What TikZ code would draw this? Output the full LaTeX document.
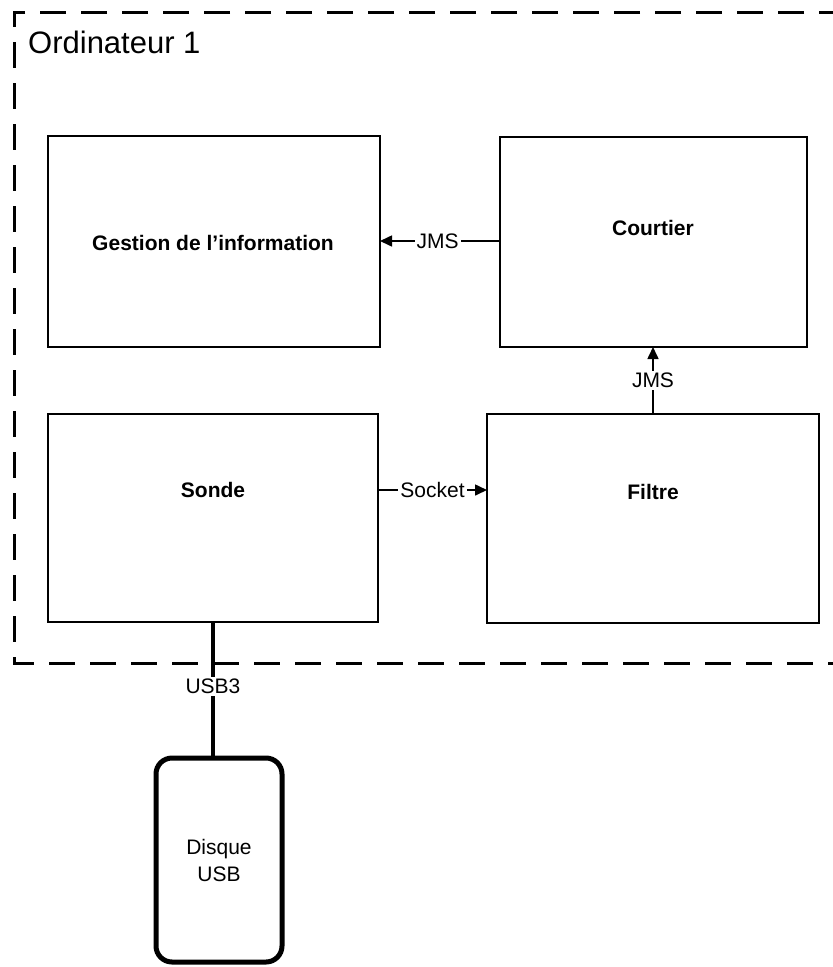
\documentclass[tikz,border=0pt]{standalone}
\usepackage{fontspec}
\setmainfont{Liberation Sans}
\usetikzlibrary{arrows.meta}
\begin{document}
\begin{tikzpicture}[x=1pt,y=-1pt,
  box/.style={draw,line width=2pt,inner sep=0pt},
  lbl/.style={font=\fontsize{21}{25}\selectfont\bfseries},
  conn/.style={line width=1.6pt,-{Triangle[length=12pt,width=11pt]}},
  clabel/.style={font=\fontsize{21}{25}\selectfont,fill=white,inner sep=2pt}]
\useasboundingbox (0,0) rectangle (833,967);
% frame
\draw[line width=3pt,dash pattern=on 26pt off 15pt] (845,12) -- (14,12) -- (14,663) -- (845,663);
\node[anchor=base west,font=\fontsize{31}{36}\selectfont,inner sep=0pt] (title) at (28,53) {Ordinateur 1};
% boxes
\draw[box] (48,136) rectangle (380,347);
\coordinate (gestionE) at (380,241);
\node[lbl] (gestion) at (213,243) {Gestion de l'information};
\draw[box] (500,137) rectangle (807,347);
\coordinate (courtierW) at (500,241);
\coordinate (courtierS) at (653,347);
\node[lbl] (courtier) at (653,228) {Courtier};
\draw[box] (48,414) rectangle (378,622);
\coordinate (sondeE) at (378,490);
\coordinate (sondeS) at (213,622);
\node[lbl] (sonde) at (213,490) {Sonde};
\draw[box] (487,414) rectangle (819,623);
\coordinate (filtreW) at (487,490);
\coordinate (filtreN) at (653,414);
\node[lbl] (filtre) at (653,492) {Filtre};
% disk
\node[draw,line width=5pt,rounded corners=16pt,minimum width=126pt,minimum height=204pt,
  align=center,font=\fontsize{21}{27}\selectfont] (disk) at (219,860) {Disque\\USB};
% connectors
\draw[conn] (courtierW) -- node[clabel,pos=0.52] {JMS} (gestionE);
\draw[conn] (filtreN) -- node[clabel,pos=0.5] {JMS} (courtierS);
\draw[conn] (sondeE) -- node[clabel,pos=0.5] {Socket} (filtreW);
\draw[line width=4.5pt] (sondeS) -- node[clabel,pos=0.48] {USB3} (sondeS |- disk.north);
\end{tikzpicture}
\end{document}
